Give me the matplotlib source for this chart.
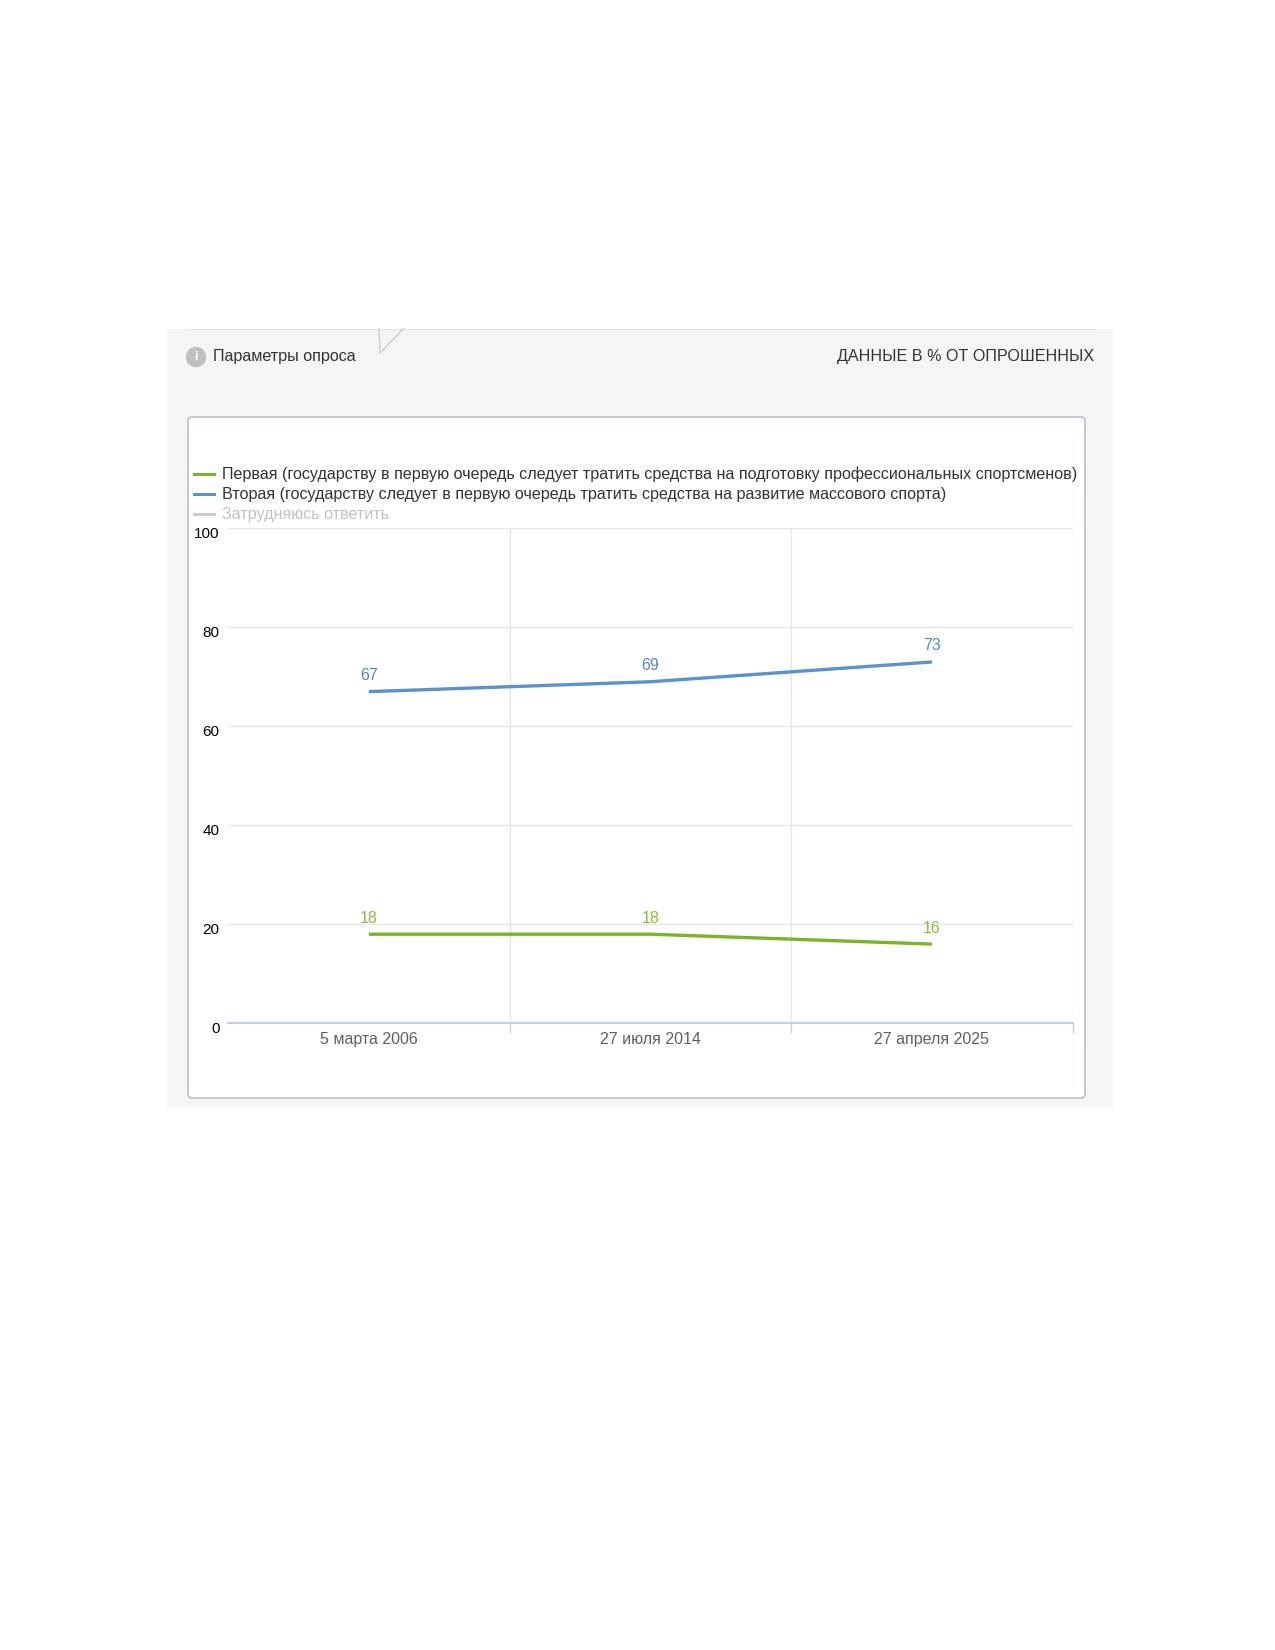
import matplotlib
matplotlib.use('Agg')
import matplotlib.pyplot as plt
from matplotlib.patches import Rectangle, FancyBboxPatch, Circle
from matplotlib.lines import Line2D
from matplotlib.transforms import ScaledTranslation

plt.rcParams['font.family'] = ['Liberation Sans', 'DejaVu Sans']

# данные опроса
dates = ['5 марта 2006', '27 июля 2014', '27 апреля 2025']
first = [18, 18, 16]
second = [67, 69, 73]
series_names = [
    'Первая (государству в первую очередь следует тратить средства на подготовку профессиональных спортсменов)',
    'Вторая (государству следует в первую очередь тратить средства на развитие массового спорта)',
    'Затрудняюсь ответить',
]
yticks = [0, 20, 40, 60, 80, 100]

W, H = 1275, 1650
fig = plt.figure(figsize=(W / 100, H / 100), dpi=100)

# фон в пикселях
bg = fig.add_axes([0, 0, 1, 1])
bg.set_xlim(0, W)
bg.set_ylim(H, 0)
bg.axis('off')

bg.add_patch(Rectangle((167, 329), 946, 778, color='#f5f5f5', lw=0))
bg.plot([185, 1095], [328.5, 328.5], color='#e6e6e6', lw=1)
bg.plot([379, 380, 403], [329, 353, 329], color='#cfcfcf', lw=1)

bg.add_patch(Circle((196, 357), 9.5, color='#bfbfbf'))
bg.text(196, 357.5, 'i', color='white', fontsize=9, fontweight='bold',
        ha='center', va='center')
bg.text(213, 356, 'Параметры опроса', fontsize=11.6, color='#333333',
        ha='left', va='center')
bg.text(1094, 356, 'ДАННЫЕ В % ОТ ОПРОШЕННЫХ', fontsize=11.6, color='#333333',
        ha='right', va='center')

bg.add_patch(FancyBboxPatch((188, 417), 897, 681,
                            boxstyle='round,pad=0,rounding_size=4',
                            fc='white', ec='#a9b5c9', lw=1))

# график
left, right, top, bottom = 228, 1072.7, 528.3, 1023.3
ax = fig.add_axes([left / W, 1 - bottom / H, (right - left) / W, (bottom - top) / H])
ax.set_facecolor('none')

x = list(range(len(dates)))
green = '#7ab42a'
blue = '#5b92cc'
ax.plot(x, first, color=green, lw=2.4, solid_capstyle='butt', zorder=3)
ax.plot(x, second, color=blue, lw=2.4, solid_capstyle='butt', zorder=3)

for i, v in enumerate(first):
    ax.annotate(str(v), (i, v), xytext=(0, 16), textcoords='offset pixels',
                ha='center', va='center', color='#8db83c', fontsize=11.5)
for i, v in enumerate(second):
    ax.annotate(str(v), (i, v), xytext=(0, 16), textcoords='offset pixels',
                ha='center', va='center', color='#5585bf', fontsize=11.5)

ax.set_xlim(-0.5, len(dates) - 0.5)
ax.set_ylim(0, 100)

for s in ['top', 'right', 'left']:
    ax.spines[s].set_visible(False)
ax.spines['bottom'].set_color('#c4cfdf')
ax.spines['bottom'].set_linewidth(1.5)

ax.set_yticks(yticks)
ax.set_yticklabels([str(t) for t in yticks])
ax.tick_params(axis='y', length=0, pad=6, labelsize=11, labelcolor='#000000')
for lab in ax.get_yticklabels():
    lab.set_transform(lab.get_transform() + ScaledTranslation(0, -4 / 100, fig.dpi_scale_trans))
ax.grid(axis='y', color='#e6e6e6', lw=1)

ax.set_xticks(x)
ax.set_xticklabels(dates)
ax.set_xticks([i + 0.5 for i in x], minor=True)
ax.tick_params(axis='x', which='major', length=0, pad=6, labelsize=11.5, labelcolor='#606060')
ax.tick_params(axis='x', which='minor', length=7, width=1, color='#c4cfdf', direction='out')
ax.grid(axis='x', which='minor', color='#e1e6ee', lw=1)
ax.set_axisbelow(True)

# легенда
handles = [
    Line2D([], [], color=green, lw=2.2),
    Line2D([], [], color=blue, lw=2.2),
    Line2D([], [], color='#cccccc', lw=2.2),
]
leg = fig.legend(handles, series_names, loc='upper left',
                 bbox_to_anchor=(194 / W, 1 - 467 / H),
                 frameon=False, fontsize=11.6, handlelength=1.25,
                 handletextpad=0.5, labelspacing=0.3, borderpad=0,
                 borderaxespad=0)
for t, c in zip(leg.get_texts(), ['#333333', '#333333', '#c2c2c2']):
    t.set_color(c)

fig.savefig('out.png', dpi=100)
